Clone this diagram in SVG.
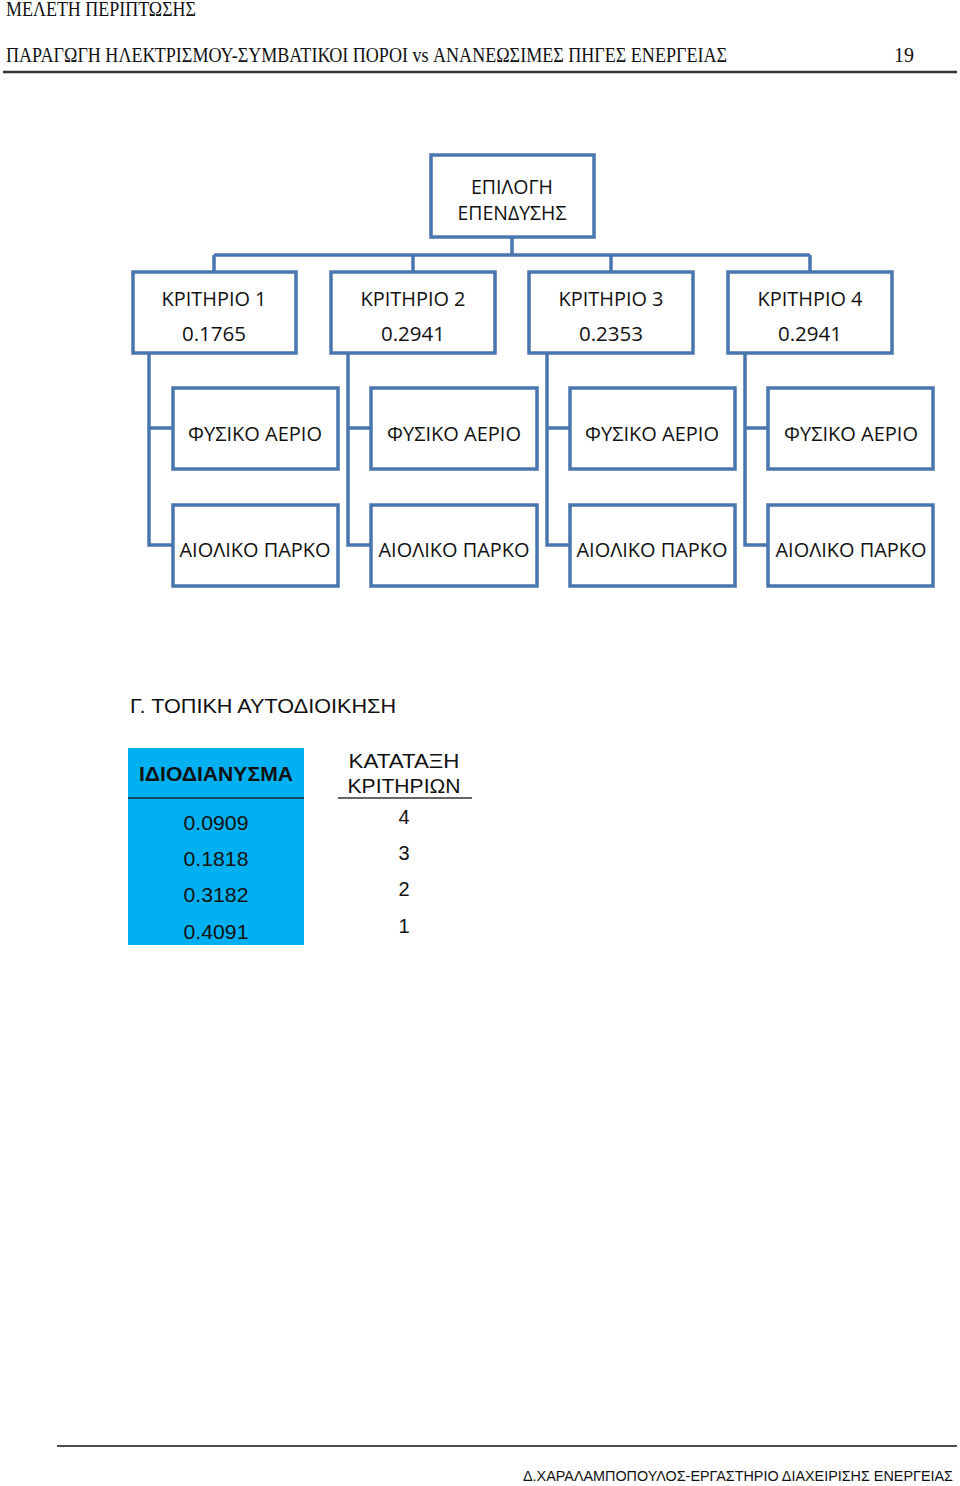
<svg xmlns="http://www.w3.org/2000/svg" width="960" height="1486" viewBox="0 0 960 1486">
<style>
.bx{fill:#ffffff;stroke:#4a76ae;stroke-width:3.5}
.cn{fill:none;stroke:#4a76ae;stroke-width:3.5}
.t{font-family:"Open Sans","Noto Sans",sans-serif;font-size:20px;fill:#111;text-anchor:middle}
.hd{font-family:"Liberation Serif",serif;font-size:20px;fill:#111}
.ar{font-family:"Liberation Sans",Arial,sans-serif;font-size:20px;fill:#111}
.ft{font-family:"Liberation Sans",Arial,sans-serif;font-size:14.3px;fill:#111}
</style>
<rect width="960" height="1486" fill="#ffffff"/>
<g id="header">
<text class="hd" x="6" y="16" textLength="190" lengthAdjust="spacingAndGlyphs">ΜΕΛΕΤΗ ΠΕΡΙΠΤΩΣΗΣ</text>
<text class="hd" x="6" y="62" textLength="721" lengthAdjust="spacingAndGlyphs">ΠΑΡΑΓΩΓΗ ΗΛΕΚΤΡΙΣΜΟΥ-ΣΥΜΒΑΤΙΚΟΙ ΠΟΡΟΙ vs ΑΝΑΝΕΩΣΙΜΕΣ ΠΗΓΕΣ ΕΝΕΡΓΕΙΑΣ</text>
<text class="hd" x="894" y="62" textLength="20" lengthAdjust="spacingAndGlyphs">19</text>
<line x1="3" y1="72" x2="957" y2="72" stroke="#333" stroke-width="2.5"/>
</g>
<g id="connectors">
<path class="cn" d="M512 237V255M214 255H810M214 255V272M413 255V272M611 255V272M810 255V272"/>
<path class="cn" d="M149 353V545H173M149 428H173"/>
<path class="cn" d="M348 353V545H371M348 428H371"/>
<path class="cn" d="M547 353V545H570M547 428H570"/>
<path class="cn" d="M745 353V545H768M745 428H768"/>
</g>
<g id="root">
<rect class="bx" x="431" y="155" width="163" height="82"/>
<text class="t" x="512" y="194" textLength="82" lengthAdjust="spacingAndGlyphs">ΕΠΙΛΟΓΗ</text>
<text class="t" x="512" y="220" textLength="109" lengthAdjust="spacingAndGlyphs">ΕΠΕΝΔΥΣΗΣ</text>
</g>
<g id="k1">
<rect class="bx" x="133" y="272" width="163" height="81"/>
<text class="t" x="214" y="306" textLength="105" lengthAdjust="spacingAndGlyphs">ΚΡΙΤΗΡΙΟ 1</text>
<text class="t" x="214" y="341" textLength="64" lengthAdjust="spacingAndGlyphs">0.1765</text>
</g>
<g id="k2">
<rect class="bx" x="331" y="272" width="164" height="81"/>
<text class="t" x="413" y="306" textLength="105" lengthAdjust="spacingAndGlyphs">ΚΡΙΤΗΡΙΟ 2</text>
<text class="t" x="413" y="341" textLength="64" lengthAdjust="spacingAndGlyphs">0.2941</text>
</g>
<g id="k3">
<rect class="bx" x="529" y="272" width="164" height="81"/>
<text class="t" x="611" y="306" textLength="105" lengthAdjust="spacingAndGlyphs">ΚΡΙΤΗΡΙΟ 3</text>
<text class="t" x="611" y="341" textLength="64" lengthAdjust="spacingAndGlyphs">0.2353</text>
</g>
<g id="k4">
<rect class="bx" x="728" y="272" width="164" height="81"/>
<text class="t" x="810" y="306" textLength="105" lengthAdjust="spacingAndGlyphs">ΚΡΙΤΗΡΙΟ 4</text>
<text class="t" x="810" y="341" textLength="64" lengthAdjust="spacingAndGlyphs">0.2941</text>
</g>
<g id="fa1"><rect class="bx" x="173" y="388" width="165" height="81"/><text class="t" x="255" y="441" textLength="134" lengthAdjust="spacingAndGlyphs">ΦΥΣΙΚΟ ΑΕΡΙΟ</text></g>
<g id="fa2"><rect class="bx" x="371" y="388" width="166" height="81"/><text class="t" x="454" y="441" textLength="134" lengthAdjust="spacingAndGlyphs">ΦΥΣΙΚΟ ΑΕΡΙΟ</text></g>
<g id="fa3"><rect class="bx" x="570" y="388" width="165" height="81"/><text class="t" x="652" y="441" textLength="134" lengthAdjust="spacingAndGlyphs">ΦΥΣΙΚΟ ΑΕΡΙΟ</text></g>
<g id="fa4"><rect class="bx" x="768" y="388" width="165" height="81"/><text class="t" x="851" y="441" textLength="134" lengthAdjust="spacingAndGlyphs">ΦΥΣΙΚΟ ΑΕΡΙΟ</text></g>
<g id="ap1"><rect class="bx" x="173" y="505" width="165" height="81"/><text class="t" x="255" y="557" textLength="151" lengthAdjust="spacingAndGlyphs">ΑΙΟΛΙΚΟ ΠΑΡΚΟ</text></g>
<g id="ap2"><rect class="bx" x="371" y="505" width="166" height="81"/><text class="t" x="454" y="557" textLength="151" lengthAdjust="spacingAndGlyphs">ΑΙΟΛΙΚΟ ΠΑΡΚΟ</text></g>
<g id="ap3"><rect class="bx" x="570" y="505" width="165" height="81"/><text class="t" x="652" y="557" textLength="151" lengthAdjust="spacingAndGlyphs">ΑΙΟΛΙΚΟ ΠΑΡΚΟ</text></g>
<g id="ap4"><rect class="bx" x="768" y="505" width="165" height="81"/><text class="t" x="851" y="557" textLength="151" lengthAdjust="spacingAndGlyphs">ΑΙΟΛΙΚΟ ΠΑΡΚΟ</text></g>
<g id="section">
<text class="ar" x="130" y="713" textLength="266" lengthAdjust="spacingAndGlyphs">Γ. ΤΟΠΙΚΗ ΑΥΤΟΔΙΟΙΚΗΣΗ</text>
</g>
<g id="table">
<rect x="128" y="748" width="176" height="197" fill="#00b0f0"/>
<line x1="128" y1="798" x2="304" y2="798" stroke="#1a2a3a" stroke-width="1.5"/>
<text class="ar" x="216" y="781" text-anchor="middle" font-weight="bold" textLength="154" lengthAdjust="spacingAndGlyphs">ΙΔΙΟΔΙΑΝΥΣΜΑ</text>
<text class="ar" x="216" y="830" text-anchor="middle" textLength="65" lengthAdjust="spacingAndGlyphs">0.0909</text>
<text class="ar" x="216" y="866" text-anchor="middle" textLength="65" lengthAdjust="spacingAndGlyphs">0.1818</text>
<text class="ar" x="216" y="902" text-anchor="middle" textLength="65" lengthAdjust="spacingAndGlyphs">0.3182</text>
<text class="ar" x="216" y="939" text-anchor="middle" textLength="65" lengthAdjust="spacingAndGlyphs">0.4091</text>
<text class="ar" x="404" y="768" text-anchor="middle" textLength="111" lengthAdjust="spacingAndGlyphs">ΚΑΤΑΤΑΞΗ</text>
<text class="ar" x="404" y="793" text-anchor="middle" textLength="113" lengthAdjust="spacingAndGlyphs">ΚΡΙΤΗΡΙΩΝ</text>
<line x1="338" y1="798" x2="472" y2="798" stroke="#333" stroke-width="1.5"/>
<text class="ar" x="404" y="824" text-anchor="middle">4</text>
<text class="ar" x="404" y="860" text-anchor="middle">3</text>
<text class="ar" x="404" y="896" text-anchor="middle">2</text>
<text class="ar" x="404" y="933" text-anchor="middle">1</text>
</g>
<g id="footer">
<line x1="57" y1="1446" x2="957" y2="1446" stroke="#111" stroke-width="1.5"/>
<text class="ft" x="523" y="1481" textLength="430" lengthAdjust="spacingAndGlyphs">Δ.ΧΑΡΑΛΑΜΠΟΠΟΥΛΟΣ-ΕΡΓΑΣΤΗΡΙΟ ΔΙΑΧΕΙΡΙΣΗΣ ΕΝΕΡΓΕΙΑΣ</text>
</g>
</svg>
